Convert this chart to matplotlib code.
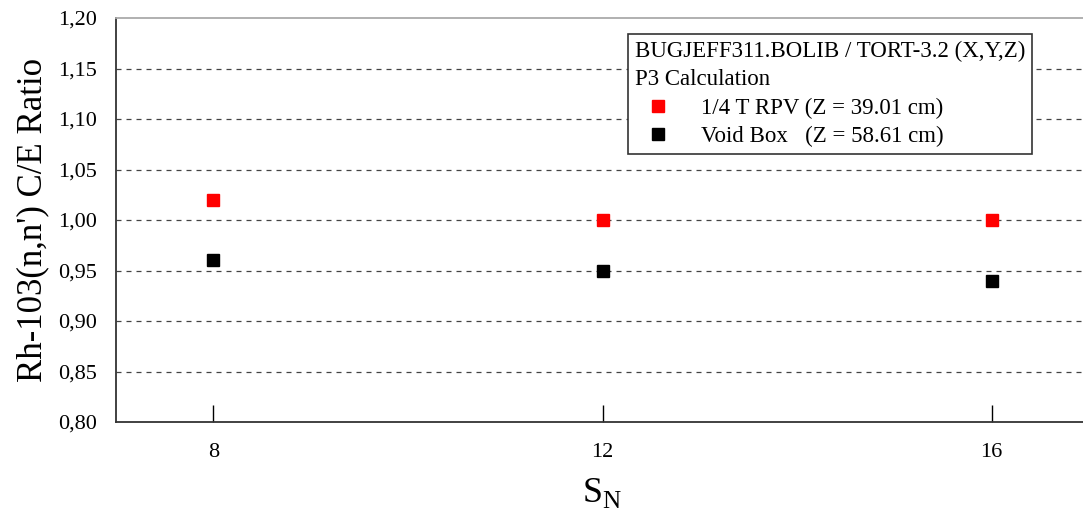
import numpy as np
import matplotlib.pyplot as plt

# Daten
sn = [8, 12, 16]
ce_rpv = [1.02, 1.00, 1.00]
ce_void = [0.96, 0.95, 0.94]
y_ticks = np.round(np.arange(0.80, 1.201, 0.05), 2)

plt.rcParams['font.family'] = ['Liberation Serif', 'DejaVu Serif']
plt.rcParams['mathtext.fontset'] = 'custom'
plt.rcParams['mathtext.rm'] = 'Liberation Serif'

fig = plt.figure(figsize=(10.83, 5.13), dpi=100)
ax = fig.add_axes([116 / 1083, 1 - 422 / 513, (1089 - 116) / 1083, (422 - 18) / 513])

ax.plot(sn, ce_rpv, 's', color='#ff0000', markersize=8, label='1/4 T RPV (Z = 39.01 cm)', zorder=3)
ax.plot(sn, ce_void, 's', color='black', markersize=8, label='Void Box   (Z = 58.61 cm)', zorder=3)

ax.set_xlim(7, 17)
ax.set_ylim(0.80, 1.20)
ax.set_xticks(sn)
ax.set_yticks(y_ticks)
ax.set_yticklabels([f"{v:.2f}".replace('.', ',') for v in y_ticks])

# gestrichelte Gitterlinien
for v in y_ticks[1:-1]:
    ax.axhline(v, color='#444444', linestyle=(0, (4, 4)), linewidth=0.9, zorder=1)

ax.tick_params(axis='x', direction='in', length=12, width=1, labelsize=16, pad=15)
ax.tick_params(axis='y', length=0, labelsize=16, pad=14)
for s in ax.spines.values():
    s.set_linewidth(1.3)
    s.set_color('#333333')
ax.spines['top'].set_color('#aaaaaa')

ax.set_ylabel("Rh-103(n,n') C/E Ratio", fontsize=25, labelpad=6)
ax.set_xlabel(r"S$_\mathregular{N}$", fontsize=26, labelpad=10)

leg = ax.legend(title="BUGJEFF311.BOLIB / TORT-3.2 (X,Y,Z)\nP3 Calculation",
                loc='upper left', bbox_to_anchor=((628 - 116) / 973, 1 - (34 - 18) / 404),
                fontsize=16.5, title_fontsize=16.5, alignment='left', fancybox=False,
                edgecolor='#333333', framealpha=1, handletextpad=0.9, borderpad=0.3,
                labelspacing=0.32, markerscale=1.0, handlelength=2.0, borderaxespad=0)
leg.get_title().set_linespacing(1.45)
leg.get_frame().set_linewidth(1.2)

fig.savefig('out.png', dpi=100)
